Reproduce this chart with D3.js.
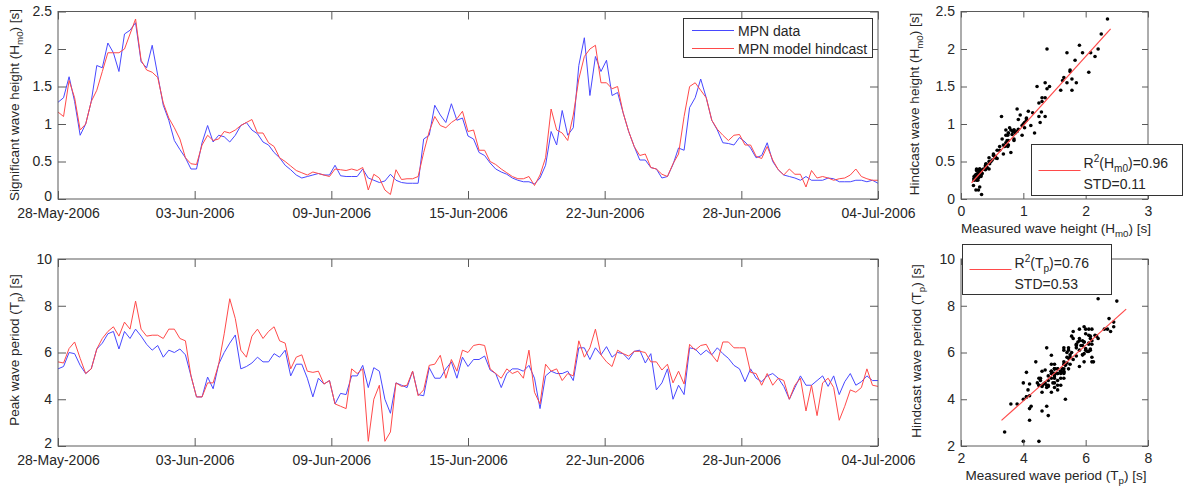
<!DOCTYPE html>
<html>
<head>
<meta charset="utf-8" />
<title>MPN hindcast</title>
<script src="https://cdn.jsdelivr.net/npm/d3@7"></script>
<style>
  body { margin: 0; background: #fff; }
  svg { font-family: "Liberation Sans", Arial, sans-serif; }
</style>
</head>
<body>
<svg id="chart" width="1184" height="487"></svg>
<script>
// 6-hourly samples from 28-May-2006 00:00 (149 values over 37 days)
const dateLabels = ['28-May-2006', '03-Jun-2006', '09-Jun-2006', '15-Jun-2006', '22-Jun-2006', '28-Jun-2006', '04-Jul-2006'];

const hsData = [
  1.29,1.35,1.63,1.30,0.85,1.00,1.30,1.78,1.75,2.08,
  1.95,1.70,2.20,2.25,2.35,1.83,1.75,2.05,1.65,1.25,
  1.05,0.78,0.66,0.55,0.40,0.40,0.75,0.98,0.76,0.85,
  0.83,0.76,0.85,0.98,1.02,0.92,0.87,0.76,0.72,0.62,
  0.55,0.45,0.39,0.32,0.28,0.30,0.32,0.34,0.32,0.32,
  0.45,0.31,0.30,0.30,0.30,0.40,0.28,0.25,0.22,0.24,
  0.33,0.25,0.22,0.21,0.21,0.21,0.80,0.85,1.25,1.12,
  1.02,1.27,1.05,1.08,0.84,0.80,0.62,0.58,0.48,0.40,
  0.36,0.33,0.28,0.25,0.23,0.23,0.20,0.28,0.45,0.90,
  0.72,1.18,0.85,0.95,1.78,2.15,1.38,1.90,1.70,1.85,
  1.38,1.42,1.15,0.90,0.70,0.52,0.52,0.42,0.40,0.28,
  0.30,0.46,0.68,0.65,1.22,1.35,1.60,1.35,1.05,0.92,
  0.75,0.74,0.72,0.82,0.76,0.68,0.55,0.58,0.75,0.50,
  0.39,0.32,0.30,0.28,0.25,0.30,0.25,0.25,0.25,0.28,
  0.27,0.23,0.23,0.23,0.25,0.25,0.23,0.25,0.21
];
const hsModel = [
  1.16,1.10,1.58,1.35,0.92,1.00,1.30,1.45,1.70,1.95,
  1.95,1.95,2.00,2.20,2.40,1.85,1.72,1.69,1.62,1.28,
  1.08,0.95,0.80,0.55,0.47,0.46,0.72,0.85,0.78,0.80,
  0.90,0.88,0.92,0.98,1.02,1.06,0.88,0.88,0.75,0.70,
  0.55,0.50,0.44,0.38,0.35,0.32,0.36,0.34,0.32,0.30,
  0.40,0.39,0.38,0.40,0.38,0.42,0.12,0.33,0.28,0.12,
  0.06,0.39,0.26,0.27,0.27,0.30,0.62,0.90,1.10,0.98,
  0.95,1.02,1.07,1.17,0.90,0.92,0.65,0.65,0.50,0.46,
  0.40,0.35,0.30,0.27,0.27,0.30,0.18,0.32,0.55,1.20,
  0.92,0.88,0.78,1.12,1.60,1.90,2.00,2.05,1.55,1.55,
  1.47,1.50,1.15,0.90,0.70,0.58,0.60,0.42,0.40,0.33,
  0.30,0.47,0.60,1.10,1.50,1.55,1.45,1.35,1.05,0.93,
  0.85,0.78,0.85,0.86,0.72,0.72,0.57,0.54,0.70,0.52,
  0.39,0.32,0.40,0.33,0.33,0.16,0.38,0.28,0.30,0.28,
  0.25,0.27,0.28,0.32,0.40,0.30,0.27,0.25,0.25
];
const tpData = [
  5.3,5.4,6.0,5.95,5.45,5.1,5.3,6.15,6.4,6.8,
  6.9,6.15,6.9,6.6,7.0,6.7,6.35,6.1,6.3,5.8,
  6.1,6.0,6.15,5.9,5.0,4.1,4.1,4.95,4.45,5.5,
  6.0,6.4,6.75,5.3,5.4,5.55,5.8,5.6,5.6,5.95,
  5.8,6.1,5.0,5.5,5.5,4.9,4.1,4.9,4.65,4.8,
  3.8,4.25,4.2,5.0,5.0,5.45,4.5,5.35,5.2,4.0,
  3.4,4.7,4.6,4.5,5.2,4.2,4.15,5.35,4.9,4.9,
  5.3,5.6,4.9,5.8,5.4,5.7,5.7,5.85,5.25,5.1,
  4.5,5.1,5.3,5.3,5.2,5.45,4.9,3.6,5.0,5.2,
  5.1,5.1,5.2,4.8,6.2,6.2,5.7,6.2,5.9,6.25,
  5.8,6.0,5.95,5.7,6.05,6.1,5.55,5.95,4.4,4.7,
  5.3,4.0,4.6,4.2,6.2,6.15,5.9,6.1,5.9,6.2,
  5.95,5.75,5.45,5.3,4.75,5.3,4.9,4.75,5.0,5.1,
  4.9,4.55,4.0,4.5,5.0,4.6,4.6,4.8,5.0,4.55,
  5.0,4.2,4.75,5.1,4.6,4.75,5.0,4.8,4.8
];
const tpModel = [
  5.6,5.55,6.17,6.45,5.75,5.1,5.3,6.15,6.6,6.9,
  7.1,6.7,7.3,7.0,8.2,7.0,6.7,6.74,6.74,6.6,
  7.0,7.0,6.6,6.5,5.0,4.1,4.1,4.7,4.7,5.5,
  6.8,8.3,7.45,6.1,5.8,6.7,7.0,6.6,6.9,7.1,
  6.5,6.4,5.3,5.8,5.9,5.2,5.15,5.2,4.65,4.8,
  3.8,3.7,3.6,5.3,5.1,5.3,2.2,4.0,4.6,2.2,
  2.6,4.7,4.55,4.6,5.2,4.15,4.4,5.45,5.5,5.88,
  4.9,5.7,5.2,6.1,6.0,6.3,6.35,6.3,5.3,5.1,
  4.9,5.3,5.1,5.2,4.9,6.1,4.3,3.8,5.5,5.2,
  5.3,4.8,5.1,5.0,6.5,5.8,6.2,7.0,5.9,5.6,
  5.4,6.1,5.95,5.85,6.05,6.05,6.0,5.6,5.6,5.25,
  5.5,4.7,5.2,4.65,6.35,6.1,6.3,6.35,5.9,5.6,
  6.45,6.45,6.2,6.2,6.2,5.15,5.1,4.6,5.1,4.6,
  4.9,4.8,4.0,4.6,4.9,3.5,4.6,3.3,4.7,4.9,
  4.5,3.1,3.7,4.4,4.3,4.5,5.3,4.6,4.55
];

const hsTicks = [0, 0.5, 1, 1.5, 2, 2.5];
const tpTicks = [2, 4, 6, 8, 10];
const hsMeasTicks = [0, 1, 2, 3];
const tpMeasTicks = [2, 4, 6, 8];
// fitted line: slope, intercept, measured from, measured to
const hsFit = [0.92, 0.06, 0.17, 2.4];
const tpFit = [1.19, -0.83, 3.3, 7.3];

const stepDays = 0.25, totalDays = 37;
const blue = '#4848ff', red = '#ff4a4a';
const frameColor = '#5a5a5a', textColor = '#262626';

const svg = d3.select('#chart');

// text with sub/superscript parts: [string, 'sub'|'sup'|undefined]
function richText(sel, parts, size) {
  let shift = 0;
  parts.forEach(([s, kind]) => {
    const t = sel.append('tspan').text(s);
    let want = kind === 'sub' ? 4 : kind === 'sup' ? -6 : 0;
    t.attr('dy', want - shift);
    shift = want;
    if (kind) t.style('font-size', (size * 0.72) + 'px');
  });
}

function frame(g, x, y, xTicks, yTicks, xFmt, tick, xPad) {
  const [x0, x1] = x.range(), [yb, yt] = y.range();
  const put = (tr, axis) => g.append('g').attr('transform', tr).call(axis);
  put(`translate(0,${yb})`, d3.axisBottom(x).tickValues(xTicks).tickFormat(xFmt).tickSizeInner(-tick).tickSizeOuter(0).tickPadding(xPad));
  put(`translate(0,${yt})`, d3.axisTop(x).tickValues(xTicks).tickFormat('').tickSizeInner(-tick).tickSizeOuter(0));
  const left = put(`translate(${x0},0)`, d3.axisLeft(y).tickValues(yTicks).tickFormat(d3.format('')).tickSizeInner(-tick).tickSizeOuter(0).tickPadding(6));
  put(`translate(${x1},0)`, d3.axisRight(y).tickValues(yTicks).tickFormat('').tickSizeInner(-tick).tickSizeOuter(0));
  g.selectAll('.domain').remove();
  g.selectAll('.tick line').attr('stroke', frameColor);
  g.selectAll('.tick text').attr('fill', textColor).style('font-size', '14px').style('font-family', '"Liberation Sans", Arial, sans-serif');
  g.append('rect').attr('x', x0).attr('y', yt).attr('width', x1 - x0).attr('height', yb - yt)
    .attr('fill', 'none').attr('stroke', frameColor).attr('stroke-width', 1);
  return left;
}

function yLabel(cx, cy, parts) {
  const t = svg.append('text').attr('transform', `translate(${cx},${cy}) rotate(-90)`)
    .attr('text-anchor', 'middle').attr('fill', textColor).style('font-size', '13.5px');
  richText(t, parts, 13.5);
}
function xLabel(cx, cy, parts) {
  const t = svg.append('text').attr('x', cx).attr('y', cy)
    .attr('text-anchor', 'middle').attr('fill', textColor).style('font-size', '13.5px');
  richText(t, parts, 13.5);
}

// ---- time series panels
const xTime = d3.scaleLinear().domain([0, totalDays]).range([58, 878]);
const timeTicks = d3.range(7).map(k => k * totalDays / 6);
const yHs = d3.scaleLinear().domain([0, 2.5]).range([199, 11.5]);
const yTp = d3.scaleLinear().domain([2, 10]).range([446, 259]);

function seriesPanel(yScale, yTicks, dataVals, modelVals) {
  const g = svg.append('g');
  const line = d3.line().x((d, i) => xTime(i * stepDays)).y(d => yScale(d));
  g.append('path').datum(dataVals).attr('d', line).attr('fill', 'none').attr('stroke', blue).attr('stroke-width', 1);
  g.append('path').datum(modelVals).attr('d', line).attr('fill', 'none').attr('stroke', red).attr('stroke-width', 1);
  const left = frame(g, xTime, yScale, timeTicks, yTicks, (d, i) => dateLabels[i], 8, 9);
  // lowest y label sits a bit higher so it clears the first date
  left.selectAll('.tick text').filter(d => d === yTicks[0]).attr('dy', '0.1em');
  return g;
}
seriesPanel(yHs, hsTicks, hsData, hsModel);
seriesPanel(yTp, tpTicks, tpData, tpModel);

yLabel(19, 105, [['Significant wave height (H'], ['m0', 'sub'], [') [s]']]);
yLabel(19, 350, [['Peak wave period (T'], ['p', 'sub'], [') [s]']]);

// legend of the time series
const lg = svg.append('g');
lg.append('rect').attr('x', 683.5).attr('y', 18.5).attr('width', 189).attr('height', 39)
  .attr('fill', '#fff').attr('stroke', '#333');
[['MPN data', blue], ['MPN model hindcast', red]].forEach(([name, col], i) => {
  const yy = 30.5 + i * 18;
  lg.append('line').attr('x1', 692).attr('x2', 734).attr('y1', yy).attr('y2', yy).attr('stroke', col).attr('stroke-width', 1.2);
  lg.append('text').attr('x', 738).attr('y', yy + 5).attr('fill', textColor).style('font-size', '14px').text(name);
});

// ---- scatter panels
function scatterPanel(x, y, xTicks, yTicks, meas, hind, fit) {
  const g = svg.append('g');
  g.selectAll('circle').data(meas).join('circle')
    .attr('cx', d => x(d)).attr('cy', (d, i) => y(hind[i])).attr('r', 1.8).attr('fill', '#000');
  const [m, b, f, t] = fit;
  g.append('line').attr('x1', x(f)).attr('y1', y(m * f + b)).attr('x2', x(t)).attr('y2', y(m * t + b))
    .attr('stroke', red).attr('stroke-width', 1.2);
  frame(g, x, y, xTicks, yTicks, d3.format(''), 6, 7);
  return g;
}
const xHsM = d3.scaleLinear().domain([0, 3]).range([961, 1148]);
const yHsH = d3.scaleLinear().domain([0, 2.5]).range([199, 11.5]);
const xTpM = d3.scaleLinear().domain([2, 8]).range([961, 1148]);
const yTpH = d3.scaleLinear().domain([2, 10]).range([446, 259]);
scatterPanel(xHsM, yHsH, hsMeasTicks, hsTicks, hsData, hsModel, hsFit);
scatterPanel(xTpM, yTpH, tpMeasTicks, tpTicks, tpData, tpModel, tpFit);

yLabel(919, 104, [['Hindcast wave height (H'], ['m0', 'sub'], [') [s]']]);
xLabel(1056, 233, [['Measured wave height (H'], ['m0', 'sub'], [') [s]']]);
yLabel(921, 351, [['Hindcast wave period (T'], ['p', 'sub'], [') [s]']]);
xLabel(1056, 480, [['Measured wave period (T'], ['p', 'sub'], [') [s]']]);

// scatter legends
function fitLegend(x, y, w, h, lineY, lines) {
  const g = svg.append('g');
  g.append('rect').attr('x', x).attr('y', y).attr('width', w).attr('height', h).attr('fill', '#fff').attr('stroke', '#333');
  g.append('line').attr('x1', x + 7).attr('x2', x + 49).attr('y1', lineY).attr('y2', lineY).attr('stroke', red).attr('stroke-width', 1.2);
  lines.forEach((parts, i) => {
    const t = g.append('text').attr('x', x + 52).attr('y', y + 23 + i * 21).attr('fill', textColor).style('font-size', '14px');
    richText(t, parts, 14);
  });
}
fitLegend(1031.5, 144.5, 151, 51, 170.5, [[['R'], ['2', 'sup'], ['(H'], ['m0', 'sub'], [')=0.96']], [['STD=0.11']]]);
fitLegend(962.5, 244.5, 149, 50, 269.5, [[['R'], ['2', 'sup'], ['(T'], ['p', 'sub'], [')=0.76']], [['STD=0.53']]]);
</script>
</body>
</html>
